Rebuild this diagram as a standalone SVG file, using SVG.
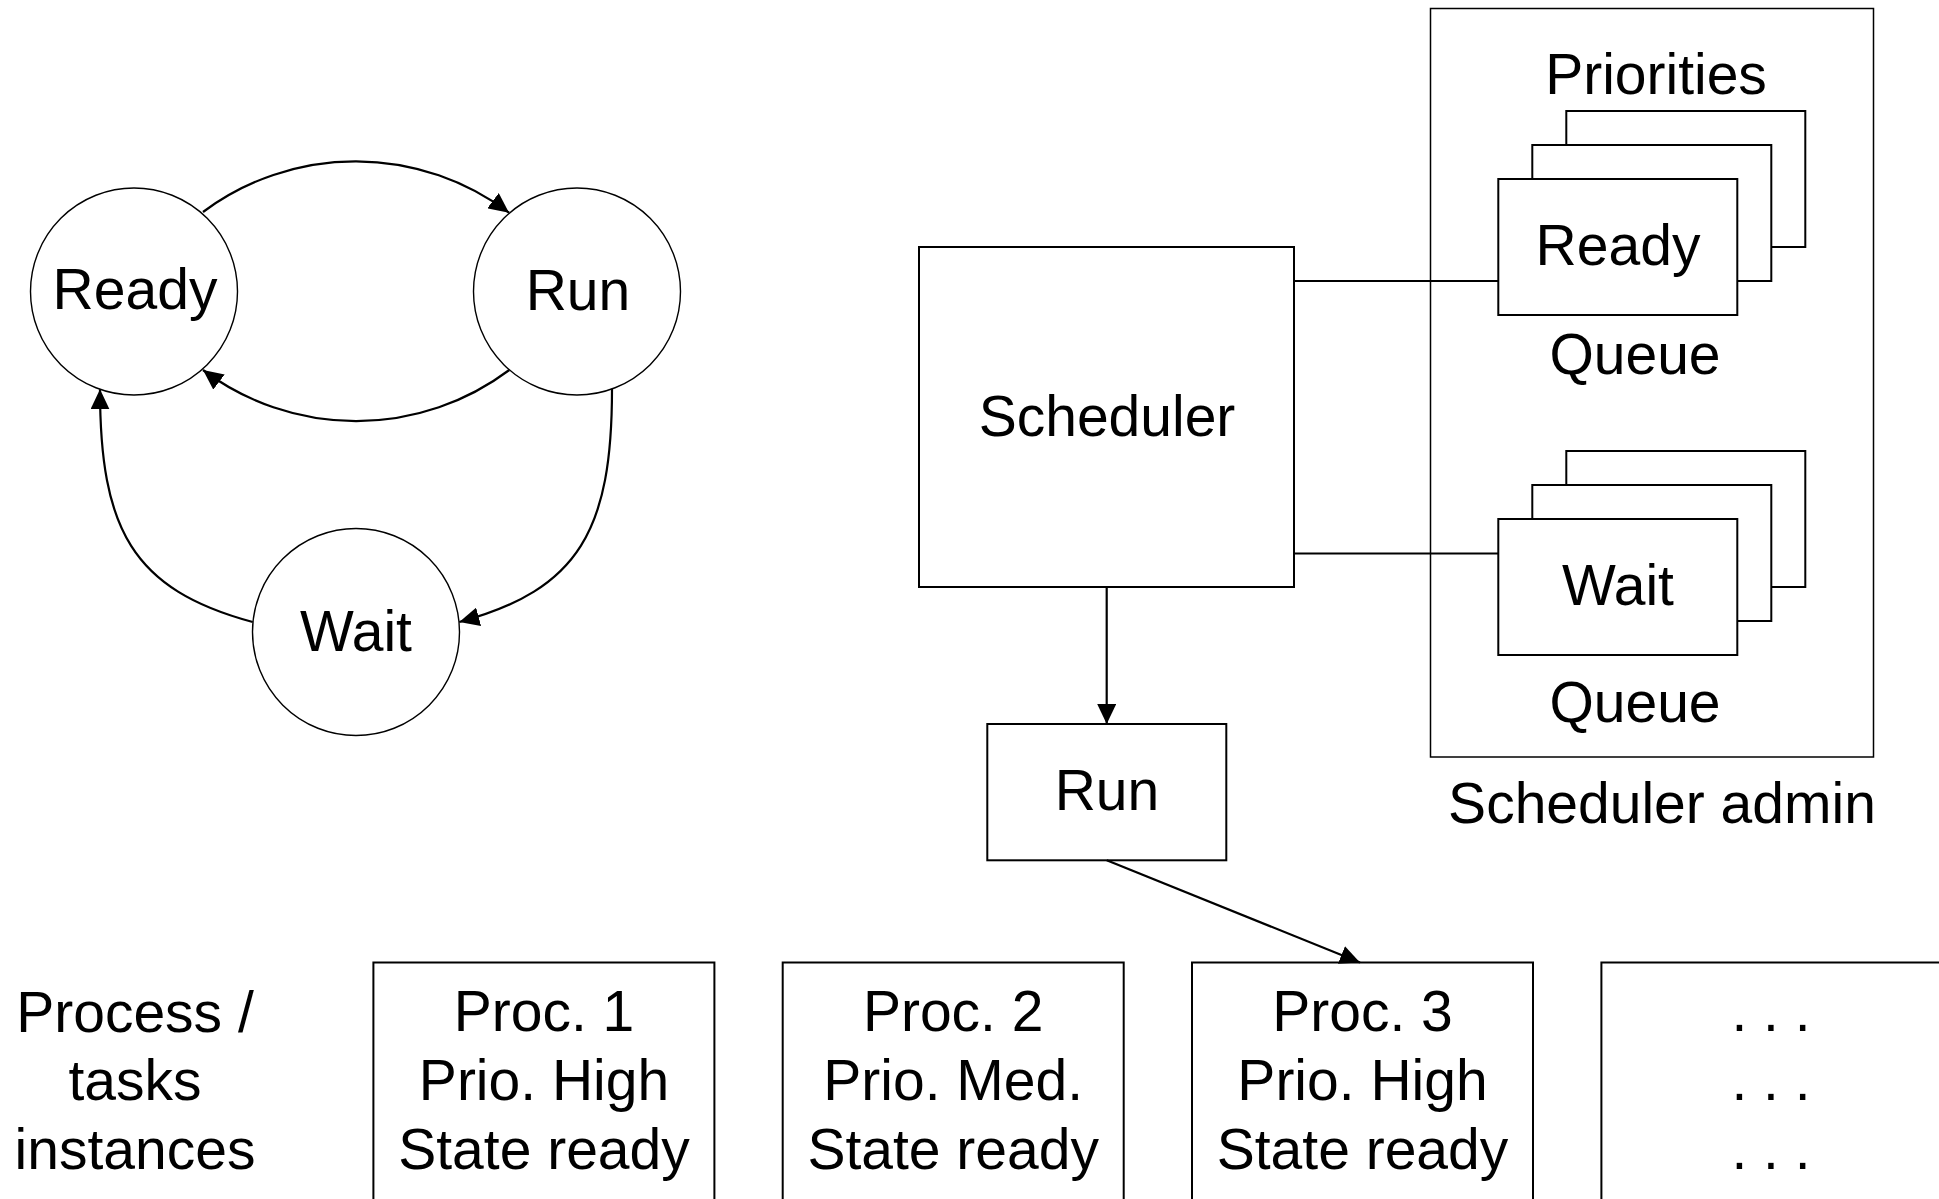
<svg xmlns="http://www.w3.org/2000/svg" width="1939" height="1199" viewBox="0 0 1939 1199">
  <style>
    text { font-family: "Liberation Sans", Arial, sans-serif; font-size: 57px; fill: #000; text-anchor: middle; }
    .state { fill: #fff; stroke: #000; stroke-width: 1.4; }
    .box { fill: #fff; stroke: #000; stroke-width: 2; }
    .frame { fill: none; stroke: #000; stroke-width: 1.5; }
    .link { fill: none; stroke: #000; stroke-width: 2.2; }
    .arrow { fill: none; stroke: #000; stroke-width: 2.2; marker-end: url(#head); }
  </style>
  <defs>
    <marker id="head" viewBox="0 0 20 19" refX="20" refY="9.5" markerWidth="20" markerHeight="19" markerUnits="userSpaceOnUse" orient="auto">
      <path d="M0,0 L20,9.5 L0,19 z" fill="#000"/>
    </marker>
  </defs>

  <rect width="1939" height="1199" fill="#fff"/>

  <!-- state machine -->
  <g id="state-ready">
    <circle class="state" cx="134" cy="291.5" r="103.5"/>
    <text x="135" y="309">Ready</text>
  </g>
  <g id="state-run">
    <circle class="state" cx="577" cy="291.5" r="103.5"/>
    <text x="578" y="310">Run</text>
  </g>
  <g id="state-wait">
    <circle class="state" cx="356" cy="632" r="103.5"/>
    <text x="356" y="651">Wait</text>
  </g>

  <!-- scheduler admin frame -->
  <g id="scheduler-admin">
    <rect class="frame" x="1430.5" y="8.5" width="443" height="748.5"/>
    <text x="1656" y="94">Priorities</text>
    <text x="1662" y="823">Scheduler admin</text>
  </g>

  <g id="ready-queue">
    <rect class="box" x="1566.3" y="111" width="239" height="136"/>
    <rect class="box" x="1532.3" y="145" width="239" height="136"/>
    <rect class="box" x="1498.3" y="179" width="239" height="136"/>
    <text x="1618" y="265">Ready</text>
    <text x="1635" y="374">Queue</text>
  </g>

  <g id="wait-queue">
    <rect class="box" x="1566.3" y="451" width="239" height="136"/>
    <rect class="box" x="1532.3" y="485" width="239" height="136"/>
    <rect class="box" x="1498.3" y="519" width="239" height="136"/>
    <text x="1618" y="604.5">Wait</text>
    <text x="1635" y="722">Queue</text>
  </g>

  <g id="scheduler">
    <rect class="box" x="919" y="247" width="375" height="340"/>
    <text x="1107" y="436">Scheduler</text>
  </g>

  <g id="run-slot">
    <rect class="box" x="987.3" y="724" width="239" height="136.3"/>
    <text x="1107" y="810">Run</text>
  </g>

  <!-- process / task instances -->
  <g id="instances-label">
    <text x="135" y="1032">Process /</text>
    <text x="135" y="1100">tasks</text>
    <text x="135" y="1169">instances</text>
  </g>
  <g id="proc-1">
    <rect class="box" x="373.4" y="962.5" width="341" height="260"/>
    <text x="544" y="1031">Proc. 1</text>
    <text x="544" y="1100">Prio. High</text>
    <text x="544" y="1169">State ready</text>
  </g>
  <g id="proc-2">
    <rect class="box" x="782.7" y="962.5" width="341" height="260"/>
    <text x="953.2" y="1031">Proc. 2</text>
    <text x="953.2" y="1100">Prio. Med.</text>
    <text x="953.2" y="1169">State ready</text>
  </g>
  <g id="proc-3">
    <rect class="box" x="1192" y="962.5" width="341" height="260"/>
    <text x="1362.5" y="1031">Proc. 3</text>
    <text x="1362.5" y="1100">Prio. High</text>
    <text x="1362.5" y="1169">State ready</text>
  </g>
  <g id="proc-more">
    <rect class="box" x="1601.4" y="962.5" width="341" height="260"/>
    <text x="1771" y="1031">. . .</text>
    <text x="1771" y="1100">. . .</text>
    <text x="1771" y="1169">. . .</text>
  </g>

  <!-- connectors -->
  <g id="connectors">
    <path class="arrow" d="M203,212 A255,255 0 0,1 509,212.7"/>
    <path class="arrow" d="M509.3,370 A255,255 0 0,1 203,370"/>
    <path class="arrow" d="M612,389 C612,529 579.75,589.6 459.3,622"/>
    <path class="arrow" d="M252.7,622 C132.25,589.6 100,529 100,389.3"/>
    <path class="link" d="M1294,281 L1498.3,281"/>
    <path class="link" d="M1294,553.5 L1498.3,553.5"/>
    <path class="arrow" d="M1106.7,587 L1106.7,724"/>
    <path class="arrow" d="M1106.7,860.3 L1360,962.5"/>
  </g>
</svg>
